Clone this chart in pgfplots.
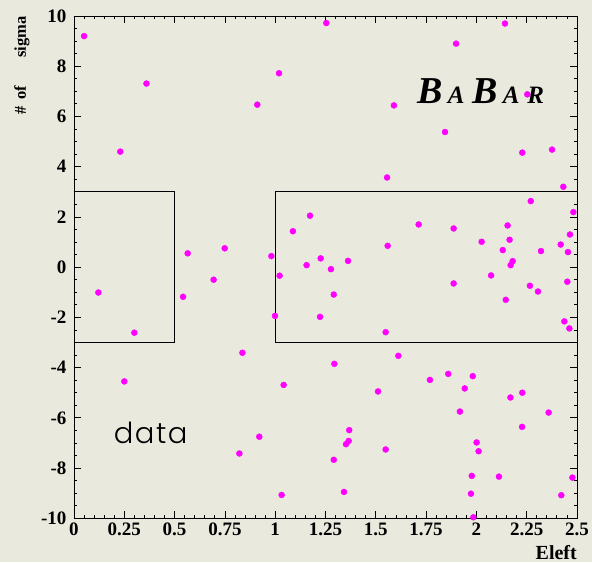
\documentclass[border=0pt]{standalone}
\usepackage{fontspec}
\setmainfont{Liberation Serif}
\newfontfamily\datafont{Poppins}[UprightFont={* Light}]
\usepackage{pgfplots}
\pgfplotsset{compat=1.18}
\definecolor{bg}{RGB}{234,233,222}
\definecolor{pt}{RGB}{255,0,255}
\begin{document}
\begin{tikzpicture}
\path[use as bounding box, fill=bg] (-74pt,-44pt) rectangle (518pt,518.3pt);
\begin{axis}[
  at={(0pt,0pt)}, anchor=south west,
  scale only axis, width=503pt, height=502.3pt,
  xmin=0, xmax=2.5, ymin=-10, ymax=10,
  axis line style={line width=0.9pt},
  tick align=inside,
  major tick length=7pt, minor tick length=3.5pt,
  every tick/.style={black, line width=0.8pt},
  xtick={0,0.25,0.5,0.75,1,1.25,1.5,1.75,2,2.25,2.5},
  xticklabels={0,0.25,0.5,0.75,1,1.25,1.5,1.75,2,2.25,2.5},
  minor x tick num=4,
  ytick={-10,-8,-6,-4,-2,0,2,4,6,8,10},
  yticklabels={-10,-8,-6,-4,-2,0,2,4,6,8,10},
  minor y tick num=3,
  ticklabel style={font=\fontsize{19}{19}\selectfont\bfseries},
  yticklabel style={xshift=-4pt},
  xticklabel style={yshift=-1pt},
]
\addplot[black, line width=0.9pt] coordinates {(0,-3) (0.5,-3) (0.5,3) (0,3) (0,-3)};
\addplot[black, line width=0.9pt] coordinates {(1,-3) (2.5,-3) (2.5,3) (1,3) (1,-3)};
\addplot[only marks, mark=*, mark size=3pt, mark options={fill=pt, draw=pt}] coordinates {
(0.05,9.20) (0.36,7.31) (0.23,4.60) (1.019,7.72) (0.911,6.47) (1.254,9.72)
(1.173,2.05) (1.088,1.43) (0.565,0.55) (0.749,0.75) (0.981,0.44) (1.156,0.08)
(1.226,0.35) (2.142,9.70) (1.899,8.90) (2.253,6.88) (1.590,6.44) (1.844,5.38)
(2.228,4.56) (2.376,4.68) (1.556,3.57) (2.432,3.20) (2.270,2.63) (2.482,2.19)
(1.713,1.70) (1.887,1.54) (2.155,1.66) (1.559,0.85) (2.026,1.01) (2.165,1.09)
(2.131,0.68) (2.321,0.64) (2.465,1.30) (2.419,0.90) (2.455,0.60) (1.362,0.25)
(1.277,-0.08) (2.180,0.24) (2.170,0.08) (1.291,-1.09) (1.223,-1.98) (1.549,-2.59)
(1.887,-0.65) (2.073,-0.33) (2.266,-0.74) (2.306,-0.97) (2.452,-0.58) (2.146,-1.30)
(2.437,-2.16) (2.462,-2.44) (1.612,-3.53) (1.294,-3.85) (1.769,-4.49) (1.860,-4.25)
(1.982,-4.34) (1.942,-4.83) (1.511,-4.95) (2.169,-5.19) (2.228,-5.00) (1.918,-5.75)
(2.359,-5.79) (2.227,-6.36) (1.368,-6.49) (1.365,-6.92) (1.352,-7.05) (2.001,-6.98)
(2.011,-7.33) (1.549,-7.26) (1.291,-7.67) (1.977,-8.31) (2.112,-8.34) (2.477,-8.38)
(1.342,-8.95) (1.973,-9.02) (2.422,-9.08) (1.985,-9.96) (0.121,-1.01) (0.300,-2.61)
(0.542,-1.18) (0.694,-0.50) (1.022,-0.34) (0.999,-1.94) (0.837,-3.41) (0.250,-4.55)
(1.042,-4.69) (0.921,-6.75) (0.822,-7.42) (1.032,-9.07)
};
\node[anchor=base, inner sep=0pt] at (axis cs:2.022,6.52)
  {\bfseries\itshape\fontsize{38}{38}\selectfont B\kern5pt\fontsize{25}{25}\selectfont A\kern8pt\fontsize{38}{38}\selectfont B\kern5pt\fontsize{25}{25}\selectfont A\kern8pt R};
\node[anchor=base, inner sep=0pt] at (axis cs:0.381,-7.04)
  {\datafont\fontsize{29}{29}\selectfont d\kern1.5pt a\kern1.5pt t\kern1.5pt a};
\end{axis}
\node[rotate=90, anchor=east, inner sep=0pt] at (-52pt,502.3pt)
  {\bfseries\fontsize{16.5}{16.5}\selectfont \#\hspace{0.4em}of\hspace{1.7em}sigma};
\node[anchor=base east, inner sep=0pt] at (503pt,-41pt)
  {\bfseries\fontsize{20}{20}\selectfont Eleft};
\end{tikzpicture}
\end{document}
